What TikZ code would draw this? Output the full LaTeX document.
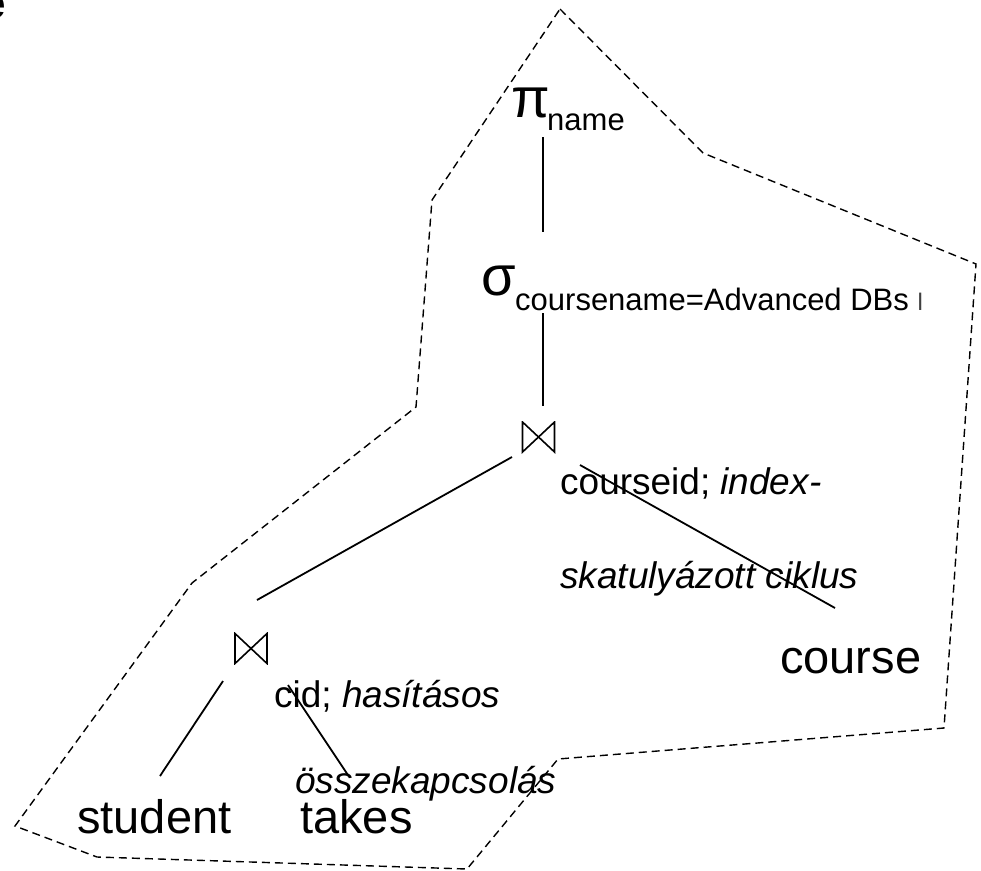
\documentclass[tikz,border=0pt]{standalone}
\usepackage{fontspec}
\setmainfont{Liberation Sans}
\begin{document}
\begin{tikzpicture}[x=1pt,y=-1pt,
  lbl/.style={inner sep=0pt, anchor=base west, font=\fontsize{47}{47}\selectfont},
  ann/.style={inner sep=0pt, anchor=base west, font=\fontsize{37}{37}\selectfont},
  op/.style={inner sep=0pt, anchor=base west, font=\fontsize{56}{56}\selectfont},
  sub/.style={inner sep=0pt, anchor=base west, font=\fontsize{31}{31}\selectfont},
  tie/.style={inner sep=0pt, minimum width=34pt, minimum height=32pt,
    path picture={
      \draw[line width=1.6pt, line join=miter]
        ([shift={(1pt,-1pt)}]path picture bounding box.north west) --
        ([shift={(1pt,1pt)}]path picture bounding box.south west) --
        (path picture bounding box.center) -- cycle;
      \draw[line width=1.6pt, line join=miter]
        ([shift={(-1pt,-1pt)}]path picture bounding box.north east) --
        ([shift={(-1pt,1pt)}]path picture bounding box.south east) --
        (path picture bounding box.center) -- cycle;
    }},
  edge/.style={line width=1.8pt},
  hull/.style={line width=1.4pt, dash pattern=on 8pt off 5pt}]
\useasboundingbox (0,0) rectangle (981,870);
% cropped title fragment
\node[inner sep=0pt, anchor=base west, font=\bfseries\fontsize{44}{44}\selectfont] (frag) at (-19,18) {e};
% dashed hull
\draw[hull] (560,9) -- (703,153) -- (976,264) -- (944,728) -- (558,759) -- (467,869)
  -- (97,857) -- (15,826) -- (192,583) -- (416,407) -- (432,200) -- cycle;
% operators
\node[op] (pi) at (511,117) {π};
\node[sub] (piname) at (547,130) {name};
\node[op] (sigma) at (481,295) {σ};
\node[sub] (sigsub) at (515,310) {coursename=Advanced DBs {\color{black!75}\fontsize{24}{24}\selectfont l}};
\node[tie] (j1) at (538.5,437) {};
\node[tie] (j2) at (251,648.5) {};
% labels
\node[ann] (cs1) at (560,494) {courseid; \textit{index-}};
\node[ann] (cs2) at (560,588) {\textit{skatulyázott ciklus}};
\node[lbl] (course) at (780,673) {course};
\node[ann] (h1) at (274,707) {cid; \textit{hasításos}};
\node[ann] (h2) at (295,793) {\textit{összekapcsolás}};
\node[lbl] (student) at (77,833) {student};
\node[lbl] (takes) at (300,833) {takes};
% connector ends
\coordinate (pi-b) at (543,137);
\coordinate (sig-t) at (543,232);
\coordinate (sig-b) at (543,313);
\coordinate (j1-t) at (543,406);
\coordinate (j1-l) at (512,457);
\coordinate (j2-t) at (257,600);
\coordinate (j1-r) at (580,465);
\coordinate (course-t) at (835,608);
\coordinate (j2-l) at (223,681);
\coordinate (student-t) at (160,776);
\coordinate (j2-r) at (288,685);
\coordinate (takes-t) at (348,775);
\draw[edge] (pi-b) -- (sig-t);
\draw[edge] (sig-b) -- (j1-t);
\draw[edge] (j1-l) -- (j2-t);
\draw[edge] (j1-r) -- (course-t);
\draw[edge] (j2-l) -- (student-t);
\draw[edge] (j2-r) -- (takes-t);
\end{tikzpicture}
\end{document}
